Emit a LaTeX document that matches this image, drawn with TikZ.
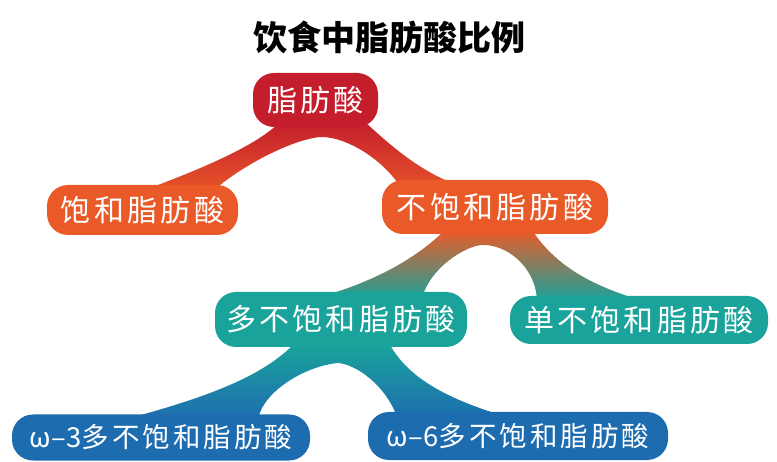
\documentclass[tikz,border=0pt]{standalone}
\usepackage{fontspec}
\newfontfamily\cjk{Noto Sans CJK SC}
\newfontfamily\cjkls[LetterSpace=11]{Noto Sans CJK SC}
\usetikzlibrary{calc}
\pgfdeclarelayer{bg}
\pgfsetlayers{bg,main}
\definecolor{rootred}{HTML}{C41E2D}
\definecolor{fatorange}{HTML}{EA5A28}
\definecolor{fatteal}{HTML}{1AA39B}
\definecolor{fatblue}{HTML}{1E6CB0}
\tikzset{
  blob/.style={rounded corners=21pt, inner sep=0pt, text=white,
    font=\cjkls\fontsize{30}{30}\selectfont},
  smallblob/.style={blob, font=\cjkls\fontsize{27.5}{27.5}\selectfont},
  titletext/.style={font=\cjk\bfseries\fontsize{34}{34}\selectfont, text=black, inner sep=0pt},
}
\begin{document}
\begin{tikzpicture}[x=1pt,y=-1pt]
\useasboundingbox (0,0) rectangle (777,462);

\node[titletext] (title) at (389,37) {饮食中脂肪酸比例};

\node[blob, fill=rootred,   minimum width=125pt, minimum height=54pt] (root)  at (315.5,100) {脂肪酸};
\node[blob, fill=fatorange, minimum width=191pt, minimum height=50pt] (sat)   at (142.5,210) {饱和脂肪酸};
\node[blob, fill=fatorange, minimum width=226pt, minimum height=54pt] (unsat) at (495,207)   {不饱和脂肪酸};
\node[blob, fill=fatteal,   minimum width=252pt, minimum height=55pt] (poly)  at (341,319.5) {多不饱和脂肪酸};
\node[blob, fill=fatteal,   minimum width=258pt, minimum height=48pt] (mono)  at (639,320)   {单不饱和脂肪酸};
\node[smallblob, fill=fatblue, minimum width=298pt, minimum height=46pt] (w3) at (161,437.5) {{\cjk ω–3}多不饱和脂肪酸};
\node[smallblob, fill=fatblue, minimum width=300pt, minimum height=48pt] (w6) at (518,436)   {{\cjk ω–6}多不饱和脂肪酸};

\begin{pgfonlayer}{bg}
\fill[white] (0,0) rectangle (777,462);
% root -> saturated / unsaturated
\shade[top color=rootred, bottom color=fatorange]
  ($(root)+(-35.5,22)$) .. controls ($(root)+(-53.5,40)$) and ($(sat)+(82.5,-50)$) .. ($(sat)+(7.5,-22)$)
  -- ($(sat)+(69.5,-18)$) .. controls ($(sat)+(95.5,-42)$) and ($(root)+(-25.5,40)$) .. ($(root)+(4.5,37)$)
  .. controls ($(root)+(29.5,36)$) and ($(unsat)+(-107,-47)$) .. ($(unsat)+(-88,-9)$)
  -- ($(unsat)+(-35,-21)$) .. controls ($(unsat)+(-75,-35)$) and ($(root)+(74.5,45)$) .. ($(root)+(49.5,22)$)
  -- cycle;
% unsaturated -> poly / mono
\shade[top color=fatorange, bottom color=fatteal]
  ($(unsat)+(-50,23)$) .. controls ($(unsat)+(-75,48)$) and ($(poly)+(39,-39.5)$) .. ($(poly)+(-21,-22.5)$)
  -- ($(poly)+(81,-21.5)$) .. controls ($(poly)+(89,-51.5)$) and ($(unsat)+(-30,39)$) .. ($(unsat)+(-13,38)$)
  .. controls ($(unsat)+(10,37)$) and ($(mono)+(-104,-55)$) .. ($(mono)+(-102,-20)$)
  -- ($(mono)+(1,-20)$) .. controls ($(mono)+(-49,-35)$) and ($(unsat)+(60,58)$) .. ($(unsat)+(37,23)$)
  -- cycle;
% poly -> omega-3 / omega-6
\shade[top color=fatteal, bottom color=fatblue]
  ($(poly)+(-49,26.5)$) .. controls ($(poly)+(-79,55.5)$) and ($(w3)+(54,-42.5)$) .. ($(w3)+(-31,-19.5)$)
  -- ($(w3)+(97,-17.5)$) .. controls ($(w3)+(101,-45.5)$) and ($(poly)+(-36,46.5)$) .. ($(poly)+(-3,43.5)$)
  .. controls ($(poly)+(14,44.5)$) and ($(w6)+(-131,-51)$) .. ($(w6)+(-120,-16)$)
  -- ($(w6)+(-8,-18)$) .. controls ($(w6)+(-68,-36)$) and ($(poly)+(69,60.5)$) .. ($(poly)+(49,25.5)$)
  -- cycle;
\end{pgfonlayer}
\end{tikzpicture}
\end{document}
